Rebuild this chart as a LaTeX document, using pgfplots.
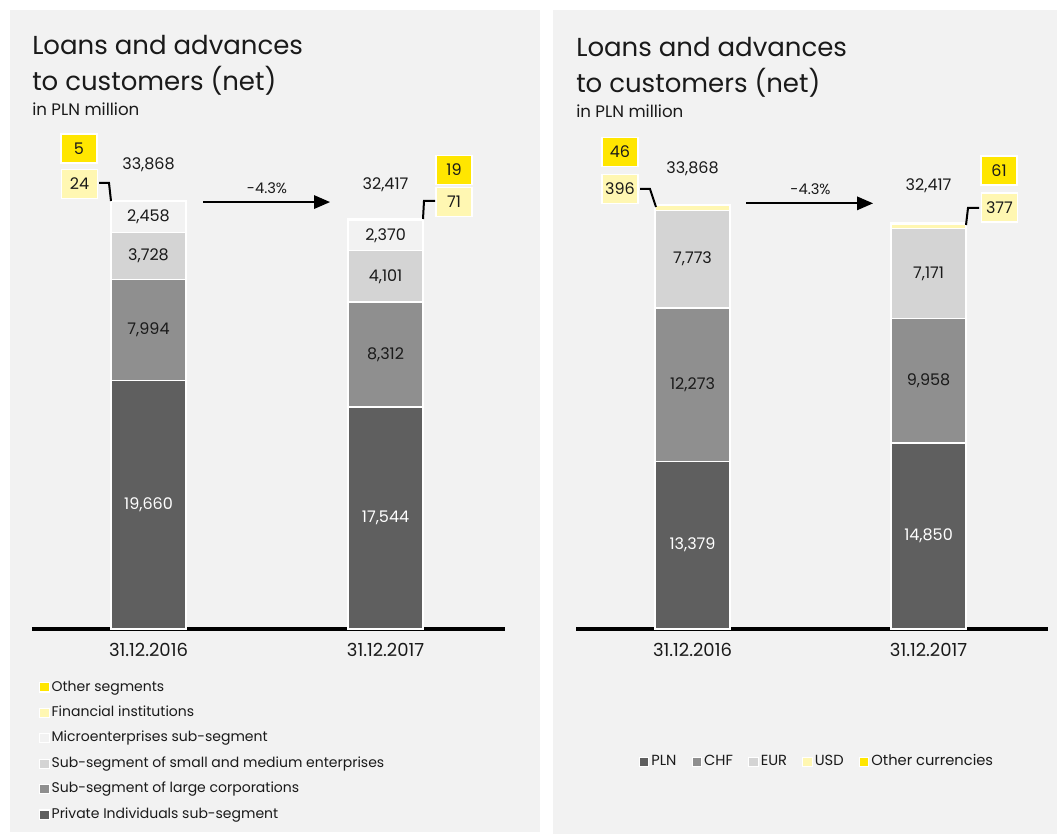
\documentclass[border=0pt]{standalone}
\usepackage{pgfplots}
\pgfplotsset{compat=1.18}
\usepackage{fontspec}
\setmainfont{Poppins}
\usetikzlibrary{arrows.meta}
\definecolor{bg}{HTML}{F2F2F2}
\definecolor{cA}{HTML}{5F5F5F}
\definecolor{cB}{HTML}{8F8F8F}
\definecolor{cC}{HTML}{D4D4D4}
\definecolor{cD}{HTML}{F2F2F2}
\definecolor{cE}{HTML}{FFF7B2}
\definecolor{cF}{HTML}{FFE600}
\definecolor{txt}{HTML}{1A1A1A}
\newcommand{\lab}{\fontsize{12}{14}\selectfont}
\pgfplotsset{
  commonaxis/.style={
    anchor=south west, scale only axis, clip=false,
    ymin=0, ymax=38000, ybar stacked, bar width=56.25pt,
    axis y line=none, axis x line*=bottom,
    x axis line style={line width=3pt, black},
    xtick={0,1}, xticklabels={{31.12.2016},{31.12.2017}},
    major tick length=0pt,
    xticklabel style={font=\fontsize{13.5}{15}\selectfont, text=txt, yshift=-7.5pt},
    every axis plot/.append style={draw=white, line width=1.2pt},
    legend image code/.code={\path[#1, draw=white, line width=0.8pt] (-0.5pt,-3.5pt) rectangle (6.5pt,3.5pt);},
    legend style={draw=none, fill=none, font=\fontsize{10.5}{12}\selectfont, text=txt,
      nodes={inner sep=1.5pt, text height=7.5pt, text depth=2pt}},
  },
}
\tikzset{box/.style={draw=white, line width=1.2pt, minimum width=27pt, minimum height=22pt, inner sep=0pt, font=\lab, text=txt},
  seg/.style={font=\lab, text=txt}}
\begin{document}
\begin{tikzpicture}[x=0.75pt,y=0.75pt]
\path[use as bounding box] (0,0) rectangle (1057,834);
\fill[white] (0,0) rectangle (1057,834);
\fill[bg] (10,2) rectangle (540,824);
\fill[bg] (553,0) rectangle (1057,824);
% titles
\node[anchor=base west, inner sep=0, font=\fontsize{19.5}{22}\selectfont, text=txt] at (32,779) {Loans and advances};
\node[anchor=base west, inner sep=0, font=\fontsize{19.5}{22}\selectfont, text=txt] at (32,743) {to customers (net)};
\node[anchor=base west, inner sep=0, font=\fontsize{12.5}{14}\selectfont, text=txt] at (32,718) {in PLN million};
\node[anchor=base west, inner sep=0, font=\fontsize{19.5}{22}\selectfont, text=txt] at (576,777) {Loans and advances};
\node[anchor=base west, inner sep=0, font=\fontsize{19.5}{22}\selectfont, text=txt] at (576,741) {to customers (net)};
\node[anchor=base west, inner sep=0, font=\fontsize{12.5}{14}\selectfont, text=txt] at (576,716) {in PLN million};

% left chart
\begin{axis}[commonaxis, at={(24pt,153.75pt)}, width=354.75pt, height=360.2pt,
  xmin=-0.4916, xmax=1.504,
  reverse legend,
  legend style={at={(0.0063,-0.098)}, anchor=north west, legend cell align=left, row sep=6.6pt}]
\addplot[fill=cA] coordinates {(0,19660) (1,17544)};
\addplot[fill=cB] coordinates {(0,7994) (1,8312)};
\addplot[fill=cC] coordinates {(0,3728) (1,4101)};
\addplot[fill=cD] coordinates {(0,2458) (1,2370)};
\addplot[fill=cE] coordinates {(0,24) (1,71)};
\addplot[fill=cF] coordinates {(0,5) (1,19)};
\legend{Private Individuals sub-segment,Sub-segment of large corporations,Sub-segment of small and medium enterprises,Microenterprises sub-segment,Financial institutions,Other segments}
\coordinate (La1) at (axis cs:0,9830);
\coordinate (La2) at (axis cs:0,23657);
\coordinate (La3) at (axis cs:0,29518);
\coordinate (La4) at (axis cs:0,32611);
\coordinate (Lb1) at (axis cs:1,8772);
\coordinate (Lb2) at (axis cs:1,21700);
\coordinate (Lb3) at (axis cs:1,27907);
\coordinate (Lb4) at (axis cs:1,31142);
\node[font=\lab, text=txt] at (axis cs:0,36700) {33,868};
\node[font=\lab, text=txt] at (axis cs:1,35130) {32,417};
\draw[line width=1.5pt, -{Triangle[length=12pt,width=10pt]}] (axis cs:0.23,33780) -- (axis cs:0.766,33780);
\node[font=\fontsize{11}{13}\selectfont, text=txt] at (axis cs:0.5,34890) {-4.3\%};
\end{axis}
\node[seg, text=white] at (La1) {19,660};
\node[seg] at (La2) {7,994};
\node[seg] at (La3) {3,728};
\node[seg] at (La4) {2,458};
\node[seg, text=white] at (Lb1) {17,544};
\node[seg] at (Lb2) {8,312};
\node[seg] at (Lb3) {4,101};
\node[seg] at (Lb4) {2,370};

% right chart
\begin{axis}[commonaxis, at={(432pt,153.75pt)}, width=354pt, height=356.8pt,
  xmin=-0.4936, xmax=1.506,
  legend columns=5,
  legend style={at={(0.5106,-0.2795)}, anchor=center, font=\fontsize{11}{12}\selectfont, /tikz/every even column/.append style={column sep=10pt}}]
\addplot[fill=cA] coordinates {(0,13379) (1,14850)};
\addplot[fill=cB] coordinates {(0,12273) (1,9958)};
\addplot[fill=cC] coordinates {(0,7773) (1,7171)};
\addplot[fill=cE] coordinates {(0,396) (1,377)};
\addplot[fill=cF] coordinates {(0,46) (1,61)};
\legend{PLN,CHF,EUR,USD,Other currencies}
\coordinate (Ra1) at (axis cs:0,6690);
\coordinate (Ra2) at (axis cs:0,19516);
\coordinate (Ra3) at (axis cs:0,29539);
\coordinate (Rb1) at (axis cs:1,7425);
\coordinate (Rb2) at (axis cs:1,19829);
\coordinate (Rb3) at (axis cs:1,28394);
\node[font=\lab, text=txt] at (axis cs:0,36800) {33,868};
\node[font=\lab, text=txt] at (axis cs:1,35440) {32,417};
\draw[line width=1.5pt, -{Triangle[length=12pt,width=10pt]}] (axis cs:0.227,34000) -- (axis cs:0.765,34000);
\node[font=\fontsize{11}{13}\selectfont, text=txt] at (axis cs:0.5,35120) {-4.3\%};
\end{axis}
\node[seg, text=white] at (Ra1) {13,379};
\node[seg] at (Ra2) {12,273};
\node[seg] at (Ra3) {7,773};
\node[seg, text=white] at (Rb1) {14,850};
\node[seg] at (Rb2) {9,958};
\node[seg] at (Rb3) {7,171};

% callouts
\node[box, fill=cF] at (79,685.5) {5};
\node[box, fill=cE] at (79.5,650) {24};
\draw[line width=1.5pt] (99,651) -- (109,651) -- (111,633);
\node[box, fill=cF] at (454,664) {19};
\node[box, fill=cE] at (454,632) {71};
\draw[line width=1.5pt] (423,615) -- (424,633) -- (435,633);
\node[box, fill=cF] at (620,682) {46};
\node[box, fill=cE] at (620,645) {396};
\draw[line width=1.5pt] (640,645) -- (650,645) -- (656,627);
\node[box, fill=cF] at (999,663.5) {61};
\node[box, fill=cE] at (999.5,626.5) {377};
\draw[line width=1.5pt] (966,609) -- (968,626) -- (979,626);
\end{tikzpicture}
\end{document}
